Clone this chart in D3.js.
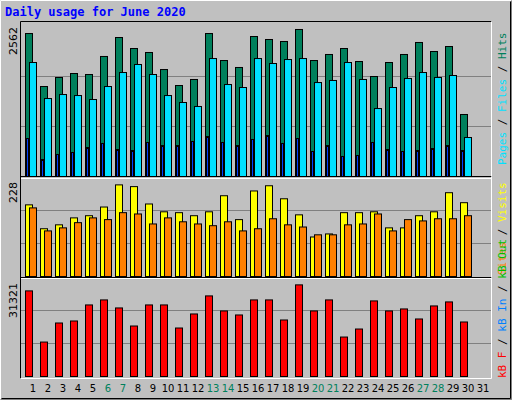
<!DOCTYPE html>
<html><head><meta charset="utf-8">
<script src="https://cdn.jsdelivr.net/npm/d3@7"></script>
<style>body{margin:0;background:#fff}</style>
</head><body>
<div id="chart"></div>
<script>
const days = d3.range(1, 32);
const weekends = [6, 7, 13, 14, 20, 21, 27, 28];
const hits = [2442,1537,1691,1759,1742,2050,2374,2186,2118,1827,1554,1657,2442,1981,1862,2391,2340,2306,2511,1981,2084,2186,1964,1708,1947,2084,2289,2135,2220,1059];
const files = [1947,1332,1400,1383,1315,1537,1776,1913,1742,1383,1264,1196,2015,1571,1520,2015,1930,1998,2015,1605,1640,1947,1657,1161,1520,1674,1776,1691,1725,666];
const pages = [649,290,376,410,495,564,461,444,581,529,529,598,683,581,529,632,700,564,649,427,529,342,359,581,461,427,444,478,529,444];
const visits = [165,110,119,135,140,160,211,207,167,149,147,140,149,186,131,197,209,179,142,91,98,147,147,149,112,112,140,149,193,170];
const sites = [158,105,112,124,135,131,147,144,121,135,126,121,117,126,105,110,133,119,114,96,96,119,121,144,105,131,128,133,133,140];
const kbytes = [27085,10897,16928,17563,22641,24228,21689,15976,22641,22641,15341,19785,25498,20737,19467,24228,24228,17880,28989,20737,24228,12484,15024,23911,20737,21372,18198,22324,23593,17245];
const maxHits = 2562, maxVisits = 228, maxKB = 31321;

const svg = d3.select('#chart').append('svg').attr('width', 512).attr('height', 400)
    .style('font-family', '"DejaVu Sans Mono", monospace');

// frame
svg.append('rect').attr('width', 512).attr('height', 400).attr('fill', '#c0c0c0');
svg.append('path').attr('d', 'M0.5,399.5V0.5H511.5').attr('stroke', '#fff').attr('fill', 'none');
svg.append('path').attr('d', 'M1.5,398.5H510.5V1.5').attr('stroke', '#000').attr('fill', 'none');
svg.append('path').attr('d', 'M0.5,399.5H511.5V0.5').attr('stroke', '#808080').attr('fill', 'none');

svg.append('text').attr('x', 5).attr('y', 16).attr('fill', '#0000ff')
    .attr('font-weight', 'bold').attr('font-size', 12).text('Daily usage for June ' + '2020');

const x = d3.scaleLinear().domain([1, 32]).range([25, 490]);

const panels = [
    {top: 25, bottom: 176, max: maxHits},
    {top: 180, bottom: 276, max: maxVisits},
    {top: 281, bottom: 376, max: maxKB}
];

panels.forEach(p => {
    const t = p.top - 4, b = p.bottom + 2;
    svg.append('path').attr('d', `M20.5,${b + 0.5}V${t + 0.5}H491.5`).attr('stroke', '#000').attr('fill', 'none');
    svg.append('path').attr('d', `M20.5,${b + 0.5}H491.5V${t + 0.5}`).attr('stroke', '#fff').attr('fill', 'none');
    p.y = d3.scaleLinear().domain([0, p.max]).range([p.bottom, p.bottom - 150 * (p.bottom - p.top) / 151]);
    if (p.max !== maxHits) p.y.range([p.bottom, p.bottom - 99]);
    [1 / 3, 2 / 3].forEach(f => {
        const gy = Math.round(p.y(p.max * f)) + 0.5;
        svg.append('line').attr('x1', 21).attr('x2', 491).attr('y1', gy).attr('y2', gy).attr('stroke', '#808080');
    });
    svg.append('text').attr('transform', `translate(17,${p.top + 2}) rotate(-90)`)
        .attr('text-anchor', 'end').attr('font-family', '"DejaVu Sans", sans-serif')
        .attr('font-size', 11).text(p.max);
});

function bars(data, p, off, w, color) {
    svg.append('g').selectAll('rect').data(data).join('rect')
        .attr('x', (d, i) => x(i + 1) + off + 0.5)
        .attr('y', d => p.y(d) + 0.5)
        .attr('width', w)
        .attr('height', d => p.y(0) - p.y(d))
        .attr('fill', color).attr('stroke', '#000');
}

bars(hits, panels[0], 0, 7, '#00805c');
bars(files, panels[0], 4, 7, '#00e0ff');
bars(pages, panels[0], 1, 2, '#0040ff');
bars(visits, panels[1], 0, 7, '#ffff00');
bars(sites, panels[1], 4, 7, '#ff8000');
bars(kbytes, panels[2], 0, 7, '#ff0000');

// day labels
svg.append('g').selectAll('text').data(days).join('text')
    .attr('x', d => x(d) + 8).attr('y', 392).attr('text-anchor', 'middle')
    .attr('font-family', '"DejaVu Sans", sans-serif').attr('font-size', 10)
    .attr('fill', d => weekends.includes(d) ? '#00805c' : '#000').text(d => d);

// right legends
function legend(parts, yEnd) {
    const t = svg.append('text').attr('transform', `translate(506,${yEnd}) rotate(-90)`)
        .attr('font-size', 11);
    parts.forEach(([s, c]) => t.append('tspan').attr('fill', c).text(s));
}
legend([['Pages', '#00e0ff'], [' / ', '#000'], ['Files', '#00e0ff'], [' / ', '#000'], ['Hits', '#00805c']], 165);
legend([['Sites', '#ff8000'], [' / ', '#000'], ['Visits', '#ffff00']], 275);
legend([['kB F', '#ff0000'], [' / ', '#000'], ['kB In', '#0080ff'], [' / ', '#000'], ['kB Out', '#00c000']], 378);
</script>
</body></html>
